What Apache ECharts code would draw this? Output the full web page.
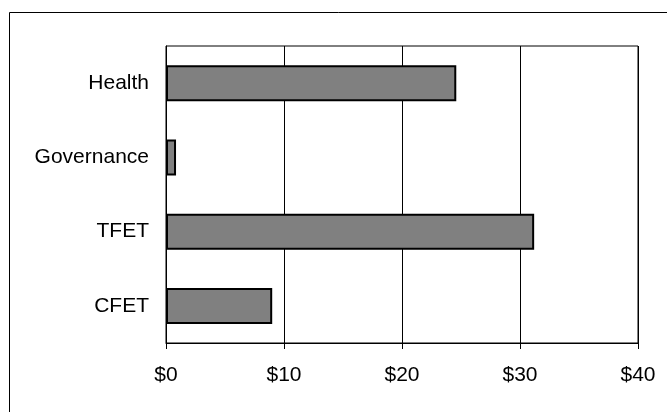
<!DOCTYPE html>
<html>
<head>
<meta charset="utf-8">
<script src="https://cdn.jsdelivr.net/npm/echarts@6/dist/echarts.min.js"></script>
<style>
  html, body { margin: 0; padding: 0; background: #fff; }
  #chart { width: 667px; height: 412px; }
</style>
</head>
<body>
<div id="chart"></div>
<script>
    // categories bottom -> top, as the category axis draws them
    var categories = ['CFET', 'TFET', 'Governance', 'Health'];
    var values = [9.0, 31.2, 0.85, 24.6];
    var xTicks = [0, 10, 20, 30, 40];

    var chart = echarts.init(document.getElementById('chart'));
    var font = 'Liberation Sans, Arial, sans-serif';

    var option = {
        animation: false,
        backgroundColor: '#fff',
        graphic: [
            {
                type: 'rect',
                left: 7, top: 10,
                shape: { width: 700, height: 500 },
                style: { fill: 'none', stroke: '#000', lineWidth: 1 },
                silent: true
            }
        ],
        grid: {
            left: 166, top: 46, width: 472, height: 297,
            show: true, borderColor: '#000', borderWidth: 1,
            containLabel: false
        },
        xAxis: {
            type: 'value',
            min: xTicks[0],
            max: xTicks[xTicks.length - 1],
            interval: 10,
            axisLine: { show: true, lineStyle: { color: '#000', width: 1 } },
            axisTick: { show: true, inside: false, length: 6, lineStyle: { color: '#000' } },
            axisLabel: {
                margin: 22,
                color: '#000',
                fontFamily: font,
                fontSize: 21,
                formatter: function (v) { return '$' + v; }
            },
            splitLine: { show: true, lineStyle: { color: '#000', width: 1 } }
        },
        yAxis: {
            type: 'category',
            data: categories,
            axisLine: { show: true, lineStyle: { color: '#000', width: 1 } },
            axisTick: { show: false },
            axisLabel: {
                margin: 17,
                color: '#000',
                fontFamily: font,
                fontSize: 21
            },
            splitLine: { show: false }
        },
        series: [
            {
                type: 'bar',
                data: values,
                barWidth: 36,
                itemStyle: {
                    color: '#808080',
                    borderColor: '#000',
                    borderWidth: 2
                }
            }
        ]
    };
    chart.setOption(option);
</script>
</body>
</html>
